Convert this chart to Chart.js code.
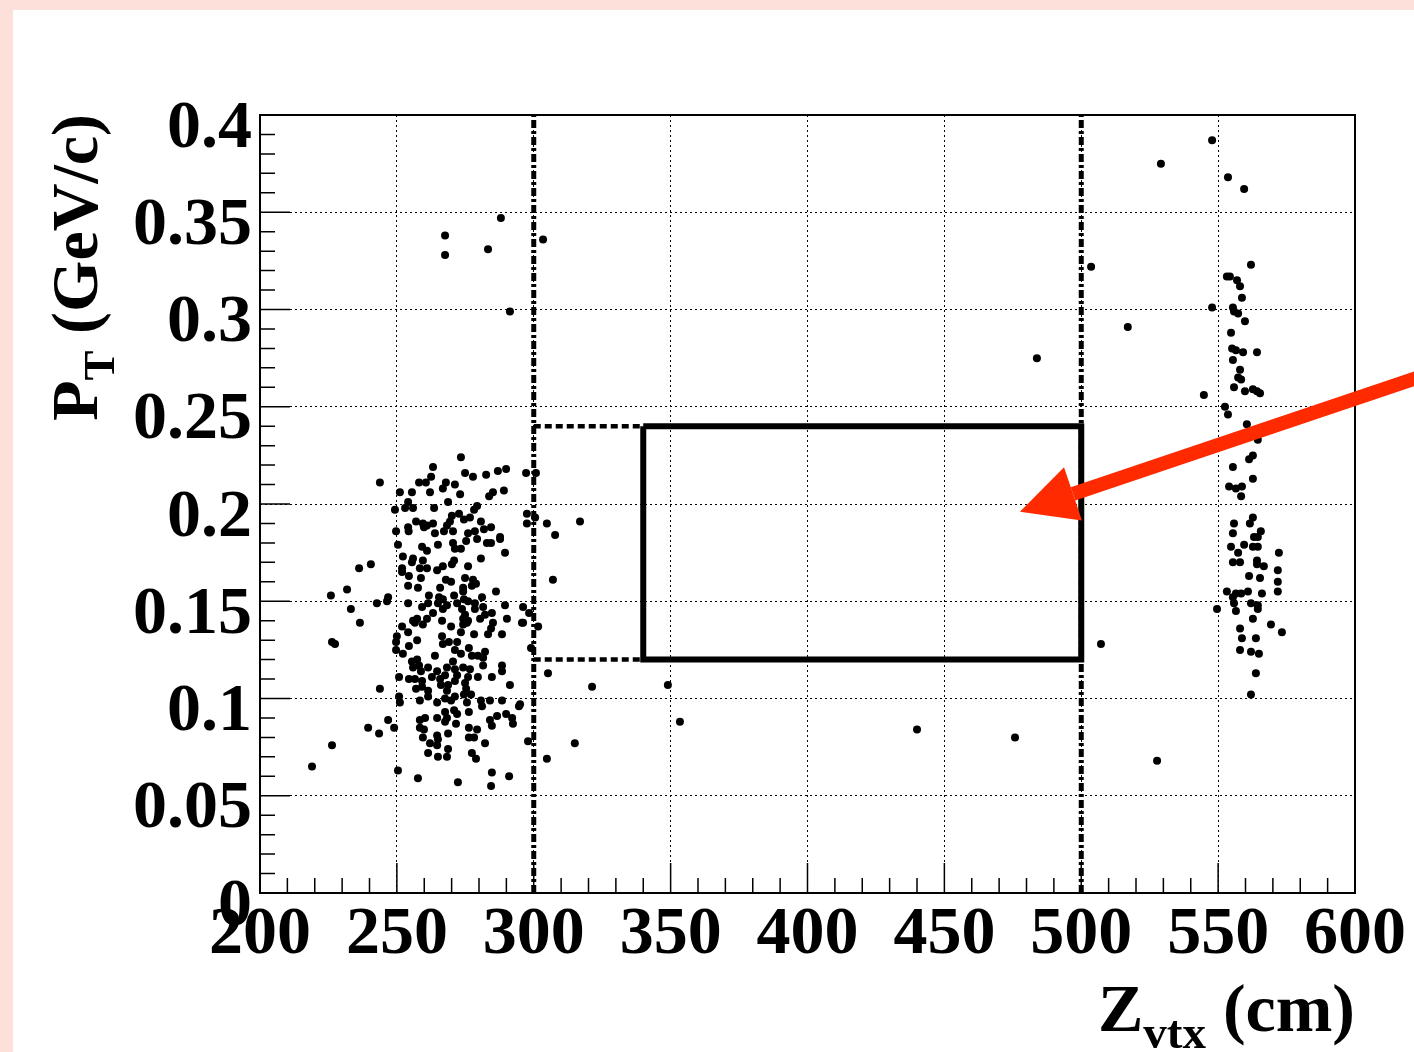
<!DOCTYPE html>
<html>
<head>
<meta charset="utf-8">
<script src="https://cdn.jsdelivr.net/npm/chart.js@4.4.0/dist/chart.umd.min.js"></script>
<style>
  html, body { margin: 0; padding: 0; background: #fde0d9; }
  canvas { display: block; }
</style>
</head>
<body>
<canvas id="ptChart" width="1414" height="1052"></canvas>
<script>
// axis ranges and tick labels
const zTicks = [200, 250, 300, 350, 400, 450, 500, 550, 600];
const zLabels = ['200', '250', '300', '350', '400', '450', '500', '550', '600'];
const ptTicks = [0, 0.05, 0.1, 0.15, 0.2, 0.25, 0.3, 0.35, 0.4];
const ptLabels = ['0', '0.05', '0.1', '0.15', '0.2', '0.25', '0.3', '0.35', '0.4'];

// cut lines and selection box
const cutZ = [300, 500];
const boxZ = [340, 500];
const boxPt = [0.12, 0.24];
// arrow: tail (off the frame) -> tip
const arrowZ = [625, 477.6];
const arrowPt = [0.266, 0.196];

// [Zvtx (cm), pT (GeV/c)]
const upstreamPts = [
  // highest
  [267.6, 0.338], [267.6, 0.328], [283.3, 0.331], [288.0, 0.347], [291.3, 0.299], [303.4, 0.336],
  // 0.18 - 0.225
  [243.8, 0.211], [251.1, 0.206], [255.5, 0.206], [258.1, 0.211], [260.6, 0.211], [262.5, 0.214], [263.2, 0.219], [262.1, 0.206],
  [267.9, 0.211], [266.8, 0.208], [271.2, 0.210], [273.1, 0.205], [273.4, 0.224], [274.9, 0.216], [277.8, 0.214], [282.6, 0.215],
  [286.9, 0.217], [289.9, 0.218], [297.2, 0.216], [283.7, 0.204], [285.1, 0.206], [289.1, 0.207], [254.1, 0.201], [253.0, 0.198],
  [255.9, 0.198], [249.3, 0.197], [263.6, 0.198], [268.7, 0.201], [279.3, 0.199], [278.2, 0.197], [272.7, 0.195], [270.1, 0.194],
  [269.4, 0.191], [274.5, 0.192], [276.7, 0.193], [280.7, 0.191], [257.0, 0.191], [259.5, 0.190], [261.0, 0.189], [263.2, 0.190],
  [268.3, 0.189], [254.1, 0.188], [254.3, 0.186], [249.7, 0.186], [259.9, 0.188], [263.9, 0.185], [267.2, 0.186], [270.5, 0.186],
  [276.0, 0.185], [278.5, 0.186], [281.8, 0.187], [284.4, 0.188], [297.5, 0.195], [297.5, 0.190], [287.7, 0.183], [300.8, 0.216],
  [300.5, 0.193], [304.8, 0.190], [307.8, 0.184], [316.9, 0.191],
  // 0.14 - 0.18
  [250.4, 0.179], [259.2, 0.178], [261.0, 0.176], [265.0, 0.179], [270.5, 0.180], [271.2, 0.177], [273.4, 0.177], [275.3, 0.181],
  [279.3, 0.182], [282.9, 0.180], [284.4, 0.180], [287.7, 0.182], [289.5, 0.175], [280.7, 0.172], [252.2, 0.173], [255.9, 0.172],
  [255.5, 0.170], [259.5, 0.171], [270.9, 0.171], [270.1, 0.169], [266.8, 0.168], [264.7, 0.166], [258.4, 0.167], [261.0, 0.167],
  [251.9, 0.167], [251.9, 0.165], [254.4, 0.163], [258.8, 0.162], [276.0, 0.168], [274.9, 0.162], [277.8, 0.161], [267.9, 0.161],
  [269.8, 0.160], [278.9, 0.159], [277.4, 0.158], [254.1, 0.158], [257.7, 0.157], [265.8, 0.157], [274.2, 0.157], [274.2, 0.155],
  [270.9, 0.153], [265.4, 0.152], [261.7, 0.153], [266.8, 0.151], [246.8, 0.152], [246.4, 0.150], [242.7, 0.149], [254.1, 0.149],
  [259.2, 0.147], [261.4, 0.149], [265.0, 0.149], [268.3, 0.148], [266.8, 0.146], [272.0, 0.149], [274.5, 0.151], [276.0, 0.150],
  [278.5, 0.149], [281.1, 0.152], [286.2, 0.155], [289.5, 0.148], [296.1, 0.147], [298.3, 0.144], [278.5, 0.146], [273.8, 0.146],
  [274.9, 0.143], [281.5, 0.147], [284.7, 0.144], [263.2, 0.144], [257.4, 0.141], [255.9, 0.140], [261.0, 0.141], [266.5, 0.140],
  [274.2, 0.141], [276.0, 0.140], [282.2, 0.143], [280.4, 0.141], [290.2, 0.141], [295.7, 0.139], [307.0, 0.161],
  [236.2, 0.167], [240.5, 0.169], [231.8, 0.156], [225.9, 0.153], [233.2, 0.146],
  // 0.095 - 0.14
  [251.9, 0.137], [254.1, 0.134], [256.6, 0.139], [259.5, 0.138], [269.8, 0.137], [273.4, 0.134], [274.2, 0.138], [275.6, 0.139],
  [278.2, 0.133], [283.3, 0.133], [284.4, 0.136], [285.1, 0.139], [288.4, 0.133], [250.0, 0.132], [249.7, 0.129], [249.7, 0.125],
  [252.2, 0.123], [254.4, 0.127], [257.4, 0.130], [266.5, 0.132], [266.8, 0.128], [269.0, 0.129], [272.0, 0.129], [271.2, 0.125],
  [273.4, 0.123], [276.3, 0.126], [277.4, 0.122], [279.6, 0.122], [281.5, 0.121], [282.2, 0.124], [281.5, 0.117], [288.4, 0.117],
  [288.4, 0.114], [263.9, 0.122], [257.4, 0.120], [255.5, 0.119], [258.1, 0.117], [255.9, 0.116], [258.8, 0.114], [261.4, 0.116],
  [264.7, 0.114], [268.3, 0.116], [270.5, 0.119], [271.2, 0.115], [274.2, 0.116], [276.7, 0.115], [272.0, 0.112], [267.6, 0.112],
  [262.8, 0.111], [259.2, 0.109], [256.6, 0.110], [254.4, 0.110], [250.8, 0.111], [243.8, 0.105], [257.0, 0.105], [259.2, 0.106],
  [261.4, 0.104], [265.8, 0.110], [266.1, 0.107], [268.7, 0.107], [268.3, 0.104], [271.2, 0.109], [274.9, 0.108], [276.0, 0.111],
  [279.6, 0.111], [284.7, 0.111], [275.3, 0.105], [274.5, 0.102], [277.1, 0.102], [271.2, 0.101], [269.8, 0.099], [267.6, 0.100],
  [264.7, 0.098], [261.4, 0.101], [258.4, 0.099], [250.8, 0.101], [251.1, 0.098], [275.6, 0.098], [280.7, 0.099], [284.0, 0.099],
  [288.4, 0.099], [291.3, 0.107], [295.0, 0.097], [296.1, 0.139], [301.6, 0.137], [299.0, 0.126], [305.2, 0.113], [321.3, 0.106],
  [236.5, 0.139], [226.3, 0.129], [227.4, 0.128],
  // below 0.095
  [246.8, 0.089], [243.5, 0.082], [249.0, 0.085], [258.4, 0.089], [260.3, 0.090], [258.4, 0.085], [259.9, 0.084], [259.5, 0.080],
  [264.7, 0.090], [264.7, 0.081], [265.0, 0.079], [262.1, 0.077], [264.7, 0.076], [267.6, 0.093], [268.3, 0.090], [267.6, 0.088],
  [270.9, 0.094], [272.0, 0.092], [271.6, 0.087], [268.7, 0.082], [268.7, 0.074], [268.3, 0.070], [265.0, 0.070], [261.4, 0.072],
  [276.3, 0.093], [276.3, 0.085], [276.3, 0.080], [278.2, 0.080], [279.3, 0.084], [277.4, 0.072], [278.9, 0.069], [282.2, 0.077],
  [281.1, 0.096], [284.0, 0.089], [284.7, 0.086], [286.6, 0.091], [289.9, 0.092], [292.1, 0.090], [292.4, 0.087], [297.9, 0.078],
  [294.6, 0.096], [250.4, 0.063], [257.7, 0.059], [272.3, 0.057], [284.7, 0.062], [291.0, 0.060], [284.4, 0.055], [239.5, 0.085],
  [226.3, 0.076], [219.0, 0.065], [304.8, 0.069], [315.0, 0.077]
];

const gapPts = [
  [349.0, 0.107], [353.4, 0.088], [440.0, 0.084], [475.8, 0.080], [483.8, 0.275], [503.6, 0.322],
  [517.0, 0.291], [507.2, 0.128], [527.7, 0.068], [529.1, 0.375]
];

const downstreamPts = [
  [547.8, 0.387], [553.6, 0.368], [559.5, 0.362], [562.0, 0.323], [553.2, 0.317], [554.3, 0.317], [556.9, 0.315], [558.0, 0.312],
  [558.7, 0.306], [547.8, 0.301], [555.4, 0.301], [555.8, 0.299], [557.3, 0.298], [559.8, 0.294], [554.7, 0.288], [555.1, 0.280],
  [556.5, 0.279], [559.1, 0.278], [564.2, 0.278], [555.4, 0.274], [558.0, 0.269], [557.3, 0.265], [558.4, 0.264], [555.8, 0.260],
  [559.8, 0.258], [562.7, 0.259], [564.2, 0.258], [565.3, 0.257], [544.8, 0.256], [552.5, 0.250], [553.6, 0.246], [560.5, 0.241],
  [564.5, 0.233], [561.3, 0.223], [562.7, 0.225], [555.4, 0.219], [562.7, 0.213], [554.0, 0.209], [556.5, 0.208], [558.7, 0.209],
  [558.4, 0.204], [562.7, 0.193], [561.6, 0.190], [555.8, 0.190], [555.4, 0.185], [565.6, 0.186], [564.5, 0.183], [563.1, 0.183],
  [554.7, 0.178], [559.5, 0.179], [562.7, 0.178], [564.5, 0.178], [557.3, 0.175], [572.2, 0.175], [555.4, 0.170], [558.0, 0.170],
  [564.2, 0.171], [564.2, 0.169], [566.7, 0.168], [571.8, 0.166], [561.3, 0.163], [565.3, 0.162], [571.8, 0.160], [553.2, 0.155],
  [555.4, 0.152], [556.5, 0.154], [558.4, 0.154], [560.9, 0.155], [566.0, 0.154], [571.8, 0.155], [549.6, 0.146], [555.8, 0.149],
  [556.5, 0.145], [562.0, 0.149], [564.5, 0.148], [564.5, 0.146], [562.7, 0.141], [569.3, 0.138], [573.3, 0.134], [558.0, 0.136],
  [558.7, 0.131], [563.8, 0.131], [558.0, 0.125], [562.0, 0.124], [564.9, 0.123], [563.8, 0.113], [562.0, 0.102]
];

const serif = '"Liberation Serif", "Times New Roman", serif';
const toXY = arr => arr.map(p => ({ x: p[0], y: p[1] }));

function dotSet(pts) {
  return {
    type: 'scatter',
    data: toXY(pts),
    pointRadius: 4,
    pointBackgroundColor: '#000',
    pointBorderWidth: 0,
    order: 1
  };
}

function lineSet(pts, width, dash) {
  return {
    type: 'line',
    data: pts,
    showLine: true,
    fill: false,
    borderColor: '#000',
    borderWidth: width,
    borderDash: dash,
    borderCapStyle: 'butt',
    borderJoinStyle: 'miter',
    pointRadius: 0,
    tension: 0,
    order: 0
  };
}

const datasets = [
  dotSet(upstreamPts),
  dotSet(gapPts),
  dotSet(downstreamPts),
  lineSet([{ x: cutZ[0], y: ptTicks[0] }, { x: cutZ[0], y: ptTicks[ptTicks.length - 1] }], 5, [8, 3, 3, 3]),
  lineSet([{ x: cutZ[1], y: ptTicks[0] }, { x: cutZ[1], y: ptTicks[ptTicks.length - 1] }], 5, [8, 3, 3, 3]),
  lineSet([{ x: cutZ[0], y: boxPt[1] }, { x: boxZ[0], y: boxPt[1] }], 4.5, [7, 4]),
  lineSet([{ x: cutZ[0], y: boxPt[0] }, { x: boxZ[0], y: boxPt[0] }], 4.5, [7, 4]),
  lineSet([
    { x: boxZ[0], y: boxPt[1] }, { x: boxZ[1], y: boxPt[1] }, { x: boxZ[1], y: boxPt[0] },
    { x: boxZ[0], y: boxPt[0] }, { x: boxZ[0], y: boxPt[1] }
  ], 6, [])
];

// pad frame, ROOT-style ticks, axis titles and arrow
const rootFrame = {
  id: 'rootFrame',
  beforeDraw(chart) {
    const ctx = chart.ctx;
    ctx.save();
    ctx.fillStyle = '#fde0d9';
    ctx.fillRect(0, 0, chart.width, chart.height);
    ctx.fillStyle = '#ffffff';
    ctx.fillRect(13, 10, chart.width - 13, chart.height - 10);
    ctx.restore();
  },
  afterDraw(chart) {
    const ctx = chart.ctx;
    const a = chart.chartArea;
    const xs = chart.scales.x, ys = chart.scales.y;
    ctx.save();
    ctx.strokeStyle = '#000';
    ctx.lineWidth = 2;
    ctx.strokeRect(a.left, a.top, a.right - a.left, a.bottom - a.top);

    // minor / major ticks
    ctx.lineWidth = 1.5;
    ctx.beginPath();
    for (let i = 0; i <= 40; i++) {
      const len = i % 5 === 0 ? 30 : 15;
      const px = xs.getPixelForValue(200 + i * 10);
      ctx.moveTo(px, a.bottom);
      ctx.lineTo(px, a.bottom - len);
      const py = ys.getPixelForValue(i * 0.01);
      ctx.moveTo(a.left, py);
      ctx.lineTo(a.left + len, py);
    }
    ctx.stroke();

    // x title: Z_vtx (cm)
    ctx.fillStyle = '#000';
    ctx.textBaseline = 'alphabetic';
    let big = 'bold 68px ' + serif, small = 'bold 47px ' + serif;
    ctx.font = big;
    const wZ = ctx.measureText('Z').width, wCm = ctx.measureText(' (cm)').width;
    ctx.font = small;
    const wV = ctx.measureText('vtx').width;
    let x0 = a.right - (wZ + wV + wCm);
    const yb = 1031;
    ctx.font = big; ctx.fillText('Z', x0, yb);
    ctx.font = small; ctx.fillText('vtx', x0 + wZ, yb + 17);
    ctx.font = big; ctx.fillText(' (cm)', x0 + wZ + wV, yb);

    // y title: P_T (GeV/c), rotated
    big = 'bold 66px ' + serif; small = 'bold 45px ' + serif;
    ctx.save();
    ctx.translate(97, a.top - 1);
    ctx.rotate(-Math.PI / 2);
    ctx.font = big;
    const wP = ctx.measureText('P').width, wG = ctx.measureText(' (GeV/c)').width;
    ctx.font = small;
    const wT = ctx.measureText('T').width;
    x0 = -(wP + wT + wG);
    ctx.font = big; ctx.fillText('P', x0, 0);
    ctx.font = small; ctx.fillText('T', x0 + wP, 17);
    ctx.font = big; ctx.fillText(' (GeV/c)', x0 + wP + wT, 0);
    ctx.restore();

    // red arrow
    const tx = xs.getPixelForValue(arrowZ[0]), ty = ys.getPixelForValue(arrowPt[0]);
    const hx = xs.getPixelForValue(arrowZ[1]), hy = ys.getPixelForValue(arrowPt[1]);
    const ang = Math.atan2(hy - ty, hx - tx);
    const headLen = 56, headHalf = 28;
    const bx = hx - headLen * Math.cos(ang), by = hy - headLen * Math.sin(ang);
    ctx.strokeStyle = '#ff2a00';
    ctx.fillStyle = '#ff2a00';
    ctx.lineWidth = 14;
    ctx.lineCap = 'butt';
    ctx.beginPath();
    ctx.moveTo(tx, ty);
    ctx.lineTo(bx, by);
    ctx.stroke();
    ctx.beginPath();
    ctx.moveTo(hx, hy);
    ctx.lineTo(bx + headHalf * Math.sin(ang), by - headHalf * Math.cos(ang));
    ctx.lineTo(bx - headHalf * Math.sin(ang), by + headHalf * Math.cos(ang));
    ctx.closePath();
    ctx.fill();
    ctx.restore();
  }
};

new Chart(document.getElementById('ptChart').getContext('2d'), {
  type: 'scatter',
  data: { datasets: datasets },
  options: {
    responsive: false,
    animation: false,
    events: [],
    layout: { padding: { top: 115, right: 59, left: 0, bottom: 0 } },
    plugins: { legend: { display: false }, tooltip: { enabled: false } },
    scales: {
      x: {
        type: 'linear',
        min: zTicks[0],
        max: zTicks[zTicks.length - 1],
        afterFit: s => { s.height = 159; },
        afterBuildTicks: s => { s.ticks = zTicks.map(v => ({ value: v })); },
        grid: { color: '#000', lineWidth: 1, drawTicks: false },
        border: { display: false, dash: [2, 3] },
        ticks: {
          autoSkip: false,
          maxRotation: 0,
          padding: 2,
          color: '#000',
          font: { family: serif, size: 68, weight: 'bold' },
          callback: (v, i) => zLabels[i]
        }
      },
      y: {
        type: 'linear',
        min: ptTicks[0],
        max: ptTicks[ptTicks.length - 1],
        afterFit: s => { s.width = 260; },
        afterBuildTicks: s => { s.ticks = ptTicks.map(v => ({ value: v })); },
        grid: { color: '#000', lineWidth: 1, drawTicks: false },
        border: { display: false, dash: [2, 3] },
        ticks: {
          padding: 8,
          labelOffset: 14,
          color: '#000',
          font: { family: serif, size: 68, weight: 'bold' },
          callback: (v, i) => ptLabels[i]
        }
      }
    }
  },
  plugins: [rootFrame]
});
</script>
</body>
</html>
